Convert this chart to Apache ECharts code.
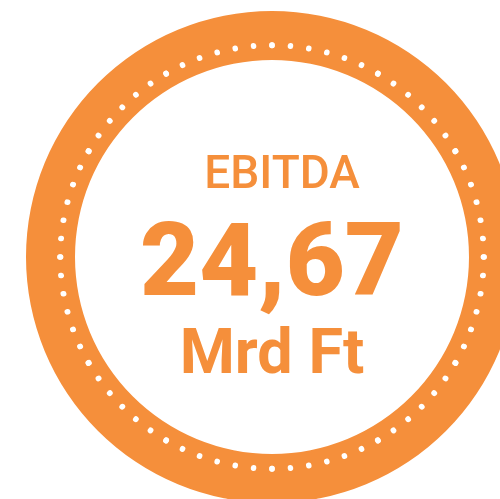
<!DOCTYPE html>
<html>
<head>
<meta charset="utf-8">
<script src="https://cdn.jsdelivr.net/npm/echarts@6/dist/echarts.min.js"></script>
<style>
  html, body { margin: 0; padding: 0; background: #fff; }
  #chart { width: 500px; height: 499px; }
</style>
</head>
<body>
<div id="chart"></div>
<script>
// KPI shown in the badge
const kpiName = 'EBITDA';
const kpiValue = 24.67;
const kpiUnit = 'Mrd Ft';

const orange = '#F58F3B';

const chart = echarts.init(document.getElementById('chart'));

chart.setOption({
    backgroundColor: '#fff',
    animation: false,
    series: [{
        type: 'gauge',
        center: [272, 257],
        radius: 246,
        startAngle: 90,
        endAngle: -270,
        min: 0,
        max: 72,
        splitNumber: 12,
        pointer: { show: false },
        anchor: { show: false },
        progress: { show: false },
        axisLine: {
            lineStyle: { width: 49, color: [[1, orange]] }
        },
        splitLine: { show: false },
        // white dotted circle inside the ring
        axisTick: {
            show: true,
            splitNumber: 6,
            distance: -15,
            length: 0.5,
            lineStyle: { color: '#fff', width: 5.5, cap: 'round' }
        },
        axisLabel: { show: false },
        title: {
            offsetCenter: [10, -81],
            color: orange,
            fontFamily: 'Roboto',
            fontWeight: 500,
            fontSize: 46
        },
        detail: {
            offsetCenter: [0, 56],
            valueAnimation: false,
            formatter: function (v) {
                return '{v|' + v.toFixed(2).replace('.', ',') + '}\n{u|' + kpiUnit + '}';
            },
            rich: {
                v: {
                    color: orange,
                    fontFamily: 'Roboto',
                    fontWeight: 900,
                    fontSize: 102,
                    lineHeight: 88
                },
                u: {
                    color: orange,
                    fontFamily: 'Roboto',
                    fontWeight: 'bold',
                    fontSize: 63,
                    lineHeight: 88
                }
            }
        },
        data: [{ value: kpiValue, name: kpiName }]
    }]
});
</script>
</body>
</html>
